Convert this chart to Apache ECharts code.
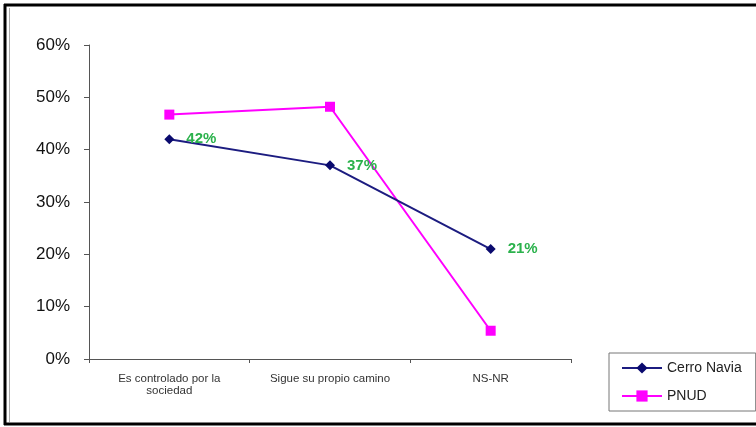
<!DOCTYPE html>
<html>
<head>
<meta charset="utf-8">
<script src="https://cdn.jsdelivr.net/npm/echarts@6/dist/echarts.min.js"></script>
<style>
html,body{margin:0;padding:0;background:#fff;}
#chart{width:756px;height:427px;}
</style>
</head>
<body>
<div id="chart"></div>
<script>
const categories = ['Es controlado por la\nsociedad', 'Sigue su propio camino', 'NS-NR'];
const cerroNavia = [42, 37, 21];
const pnud = [46.7, 48.2, 5.4];
const yTicks = [0, 10, 20, 30, 40, 50, 60];

const chart = echarts.init(document.getElementById('chart'));
chart.setOption({
  backgroundColor: '#ffffff',
  animation: false,
  textStyle: { fontFamily: '"Liberation Sans", Arial, sans-serif' },
  graphic: [
    { type: 'line', shape: { x1: 4, y1: 5, x2: 756, y2: 5 }, style: { stroke: '#000', lineWidth: 3 } },
    { type: 'line', shape: { x1: 5, y1: 4, x2: 5, y2: 425 }, style: { stroke: '#000', lineWidth: 3 } },
    { type: 'line', shape: { x1: 4, y1: 424, x2: 756, y2: 424 }, style: { stroke: '#000', lineWidth: 3 } },
    { type: 'line', shape: { x1: 9.5, y1: 8, x2: 9.5, y2: 422 }, style: { stroke: '#aaa', lineWidth: 1 } }
  ],
  grid: { left: 89, right: 185, top: 45, bottom: 68 },
  legend: {
    orient: 'vertical',
    left: 609,
    top: 353,
    padding: [8, 14, 8, 12],
    itemGap: 14,
    itemWidth: 40,
    itemHeight: 14,
    borderColor: '#777',
    borderWidth: 1,
    textStyle: { fontSize: 14, color: '#222', fontFamily: '"Liberation Sans", Arial, sans-serif' },
    data: ['Cerro Navia', 'PNUD']
  },
  xAxis: {
    type: 'category',
    data: categories,
    boundaryGap: true,
    axisLine: { lineStyle: { color: '#555', width: 1 } },
    axisTick: { show: true, length: 4, lineStyle: { color: '#555' } },
    axisLabel: { fontSize: 11.5, color: '#333', margin: 14, lineHeight: 12, interval: 0 }
  },
  yAxis: {
    type: 'value',
    min: yTicks[0],
    max: yTicks[yTicks.length - 1],
    interval: 10,
    splitLine: { show: false },
    axisLine: { show: true, lineStyle: { color: '#555', width: 1 } },
    axisTick: { show: true, length: 5, lineStyle: { color: '#555' } },
    axisLabel: { fontSize: 17, color: '#111', margin: 19, formatter: '{value}%' }
  },
  series: [
    {
      name: 'Cerro Navia',
      type: 'line',
      data: cerroNavia,
      symbol: 'diamond',
      symbolSize: 10,
      z: 3,
      lineStyle: { color: '#1c1c80', width: 2 },
      itemStyle: { color: '#0a0a6e' },
      label: {
        show: true,
        position: 'right',
        distance: 12,
        formatter: '{c}%',
        color: '#2bb24c',
        fontSize: 15,
        fontWeight: 'bold'
      }
    },
    {
      name: 'PNUD',
      type: 'line',
      data: pnud,
      symbol: 'rect',
      symbolSize: 10,
      z: 2,
      lineStyle: { color: '#ff00ff', width: 2 },
      itemStyle: { color: '#ff00ff' }
    }
  ]
});
</script>
</body>
</html>
